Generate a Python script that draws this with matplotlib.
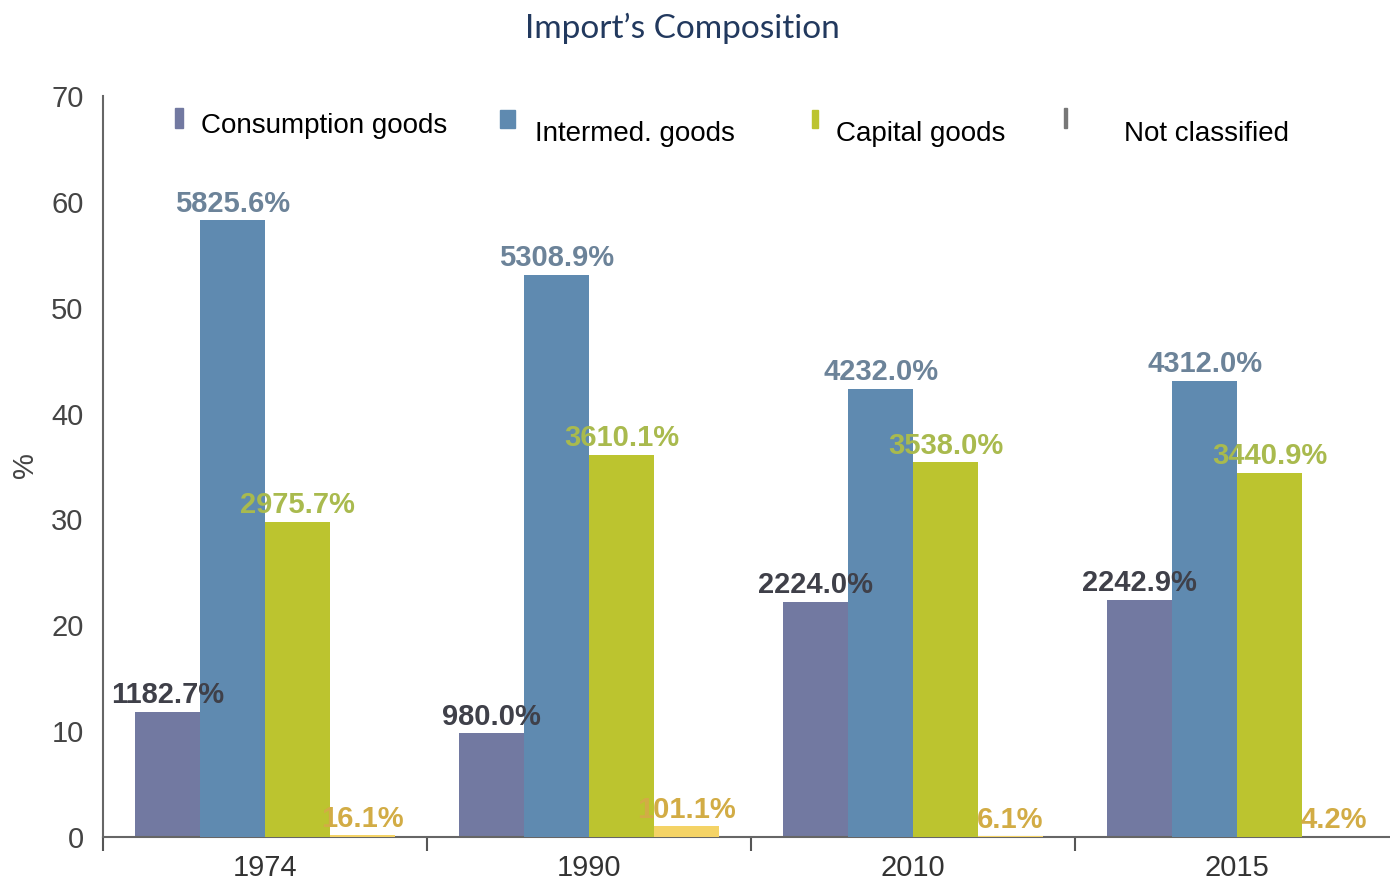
import matplotlib
matplotlib.use("Agg")
import matplotlib.pyplot as plt
from matplotlib.patches import Rectangle
import numpy as np

plt.rcParams['font.family'] = ['Liberation Sans', 'DejaVu Sans']

years = ["1974", "1990", "2010", "2015"]
series_names = ["Consumption goods", "Intermed. goods", "Capital goods", "Not classified"]
consumption = [11.827, 9.80, 22.24, 22.429]
intermediate = [58.256, 53.089, 42.32, 43.12]
capital = [29.757, 36.101, 35.38, 34.409]
not_classified = [0.161, 1.011, 0.061, 0.042]
series_values = [consumption, intermediate, capital, not_classified]

bar_colors = ["#7279A1", "#5F8AB0", "#BCC42F", "#F4D366"]
label_colors = ["#3F4049", "#6C8399", "#A9BA4E", "#D2AC45"]

fig = plt.figure(figsize=(13.9, 8.82), dpi=100)
W, H = 1390, 882
ax_left, ax_right, ax_top, ax_bottom = 103, 1399, 96, 837
ax = fig.add_axes([ax_left / W, 1 - ax_bottom / H, (ax_right - ax_left) / W, (ax_bottom - ax_top) / H])

x = np.arange(len(years))
bw = 0.2
offsets = [-1.5, -0.5, 0.5, 1.5]
for i, vals in enumerate(series_values):
    pos = x + offsets[i] * bw
    ax.bar(pos, vals, width=bw, color=bar_colors[i], zorder=2 + i)
for i, vals in enumerate(series_values):
    pos = x + offsets[i] * bw
    for p, v in zip(pos, vals):
        ax.text(p, v + 0.25, f"{v * 100:.1f}%", ha="center", va="bottom",
                fontsize=21, fontweight="bold", color=label_colors[i], zorder=10)

ax.set_xlim(-0.5, len(years) - 0.5)
ax.set_ylim(0, 70)
ax.set_yticks(np.arange(0, 71, 10))
ax.tick_params(axis="y", length=0, labelsize=21, labelcolor="#444444", pad=14)
ax.set_xticks(np.arange(-0.5, len(years), 1.0))
ax.set_xticklabels([])
ax.set_xticks(x, minor=True)
ax.set_xticklabels(years, minor=True)
ax.tick_params(axis="x", which="major", length=10, width=1.5, color="#555555", direction="out")
ax.tick_params(axis="x", which="minor", length=0, labelsize=21, labelcolor="#333333", pad=12)

for s in ["top", "right"]:
    ax.spines[s].set_visible(False)
for s in ["left", "bottom"]:
    ax.spines[s].set_color("#666666")
    ax.spines[s].set_linewidth(1.5)

fig.text(25 / W, 1 - 465 / H, "%", rotation=90, ha="center", va="center",
         fontsize=21, color="#444444")

# Legend (manual, inside the plot top)
def fx(px):
    return (px - ax_left) / (ax_right - ax_left)
def fy(py):
    return (ax_bottom - py) / (ax_bottom - ax_top)

leg = [
    (175, 183, 108, 128, 201, 126),
    (500, 515, 110, 128, 535, 134),
    (812, 818, 110, 128, 836, 134),
    (None, None, None, None, 1124, 134),
]
for i, (mx0, mx1, my0, my1, tx, ty) in enumerate(leg):
    if mx0 is not None:
        ax.add_patch(Rectangle((fx(mx0), fy(my1)), fx(mx1) - fx(mx0), fy(my0) - fy(my1),
                               transform=ax.transAxes, color=bar_colors[i], clip_on=False, zorder=12))
    ax.text(fx(tx), fy(ty), series_names[i], transform=ax.transAxes, ha="left", va="center",
            fontsize=20, color="black", zorder=12)
ax.add_patch(Rectangle((fx(1064), fy(128)), fx(1067) - fx(1064), fy(108) - fy(128),
                       transform=ax.transAxes, color="#777777", clip_on=False, zorder=12))

fig.text(682 / W, 1 - 28 / H, "Import\u2019s Composition", ha="center", va="center",
         fontsize=24, color="#22395E", family=["Lato", "DejaVu Sans"])

fig.savefig("out.png", dpi=100)
